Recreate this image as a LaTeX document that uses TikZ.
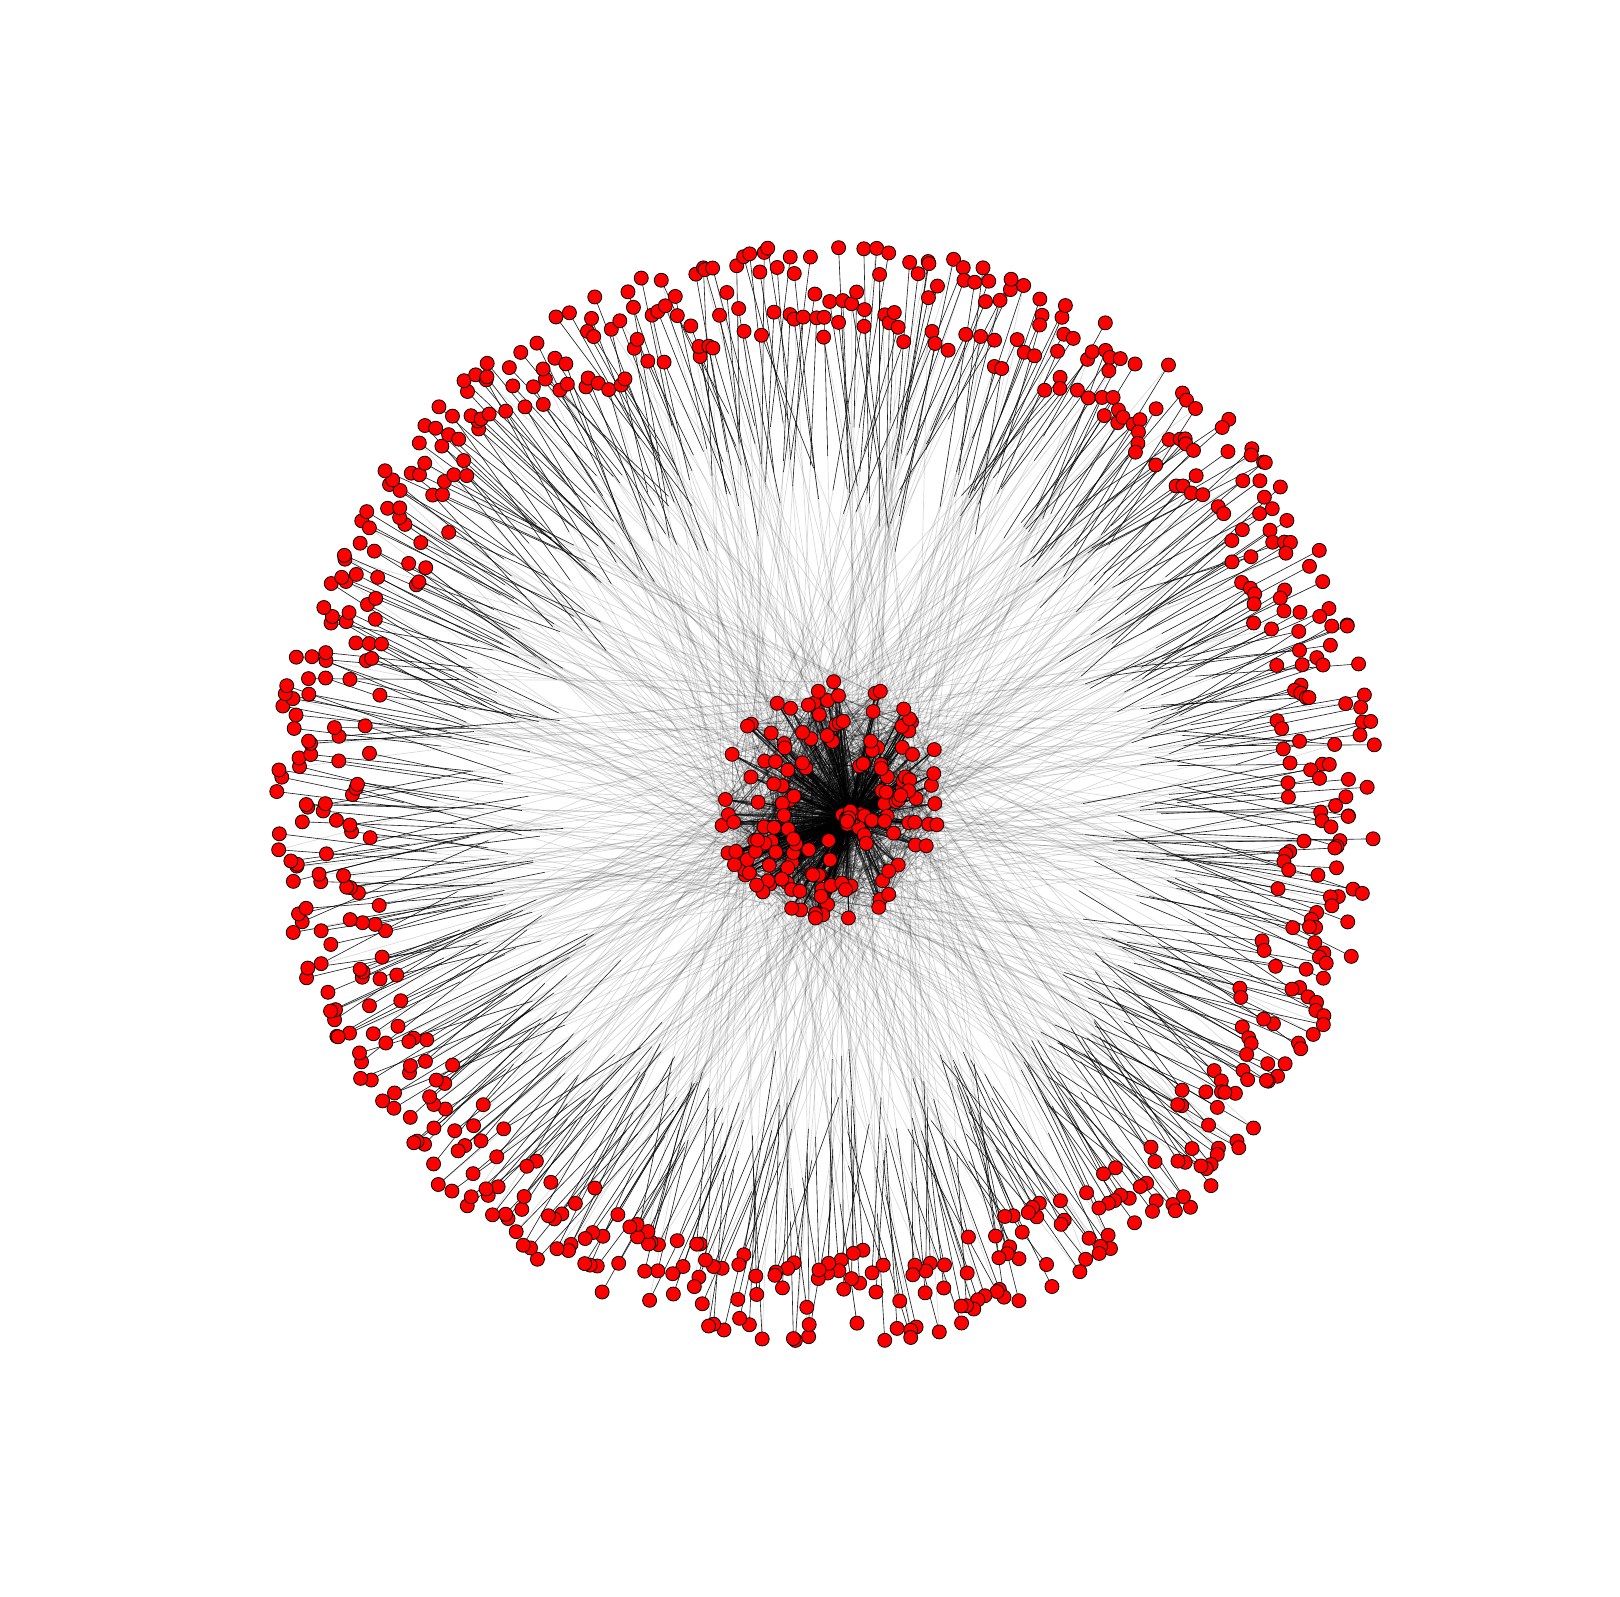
\documentclass[tikz,border=0pt]{standalone}
\usetikzlibrary{calc}
\pgfdeclarelayer{edges}
\pgfsetlayers{edges,main}
\tikzset{
  vnode/.style={circle, draw=black, fill=red, line width=0.8pt, minimum size=14pt, inner sep=0pt},
  faint/.style={draw=black, opacity=0.15, line width=0.7pt},
  darkseg/.style={draw=black, opacity=0.85, line width=0.6pt},
  core/.style={draw=black, opacity=0.45, line width=0.5pt},
}
\begin{document}
\begin{tikzpicture}[x=1pt,y=-1pt]
\useasboundingbox (0,0) rectangle (1620,1596);
\pgfmathsetseed{2718}
% central cluster: tight clump
\foreach \j in {1,...,16}{
  \pgfmathsetmacro\a{360*rnd}
  \pgfmathsetmacro\r{15*rnd}
  \pgfmathsetmacro\px{848+\r*cos(\a)}
  \pgfmathsetmacro\py{820+\r*sin(\a)}
  \node[vnode] (c\j) at (\px,\py) {};
}
% central cluster: surrounding nodes
\foreach \j in {17,...,160}{
  \pgfmathsetmacro\a{360*rnd}
  \pgfmathsetmacro\r{0.3+0.7*rnd^0.6}
  \pgfmathsetmacro\px{831+115*\r*cos(\a)}
  \pgfmathsetmacro\py{800+122*\r*sin(\a)}
  \node[vnode] (c\j) at (\px,\py) {};
}
% outer ring
\foreach \i in {1,...,680}{
  \pgfmathsetmacro\a{\i*0.52941+0.5*rand}
  \pgfmathsetmacro\r{551-95*rnd^1.15}
  \pgfmathsetmacro\px{826+\r*cos(\a)}
  \pgfmathsetmacro\py{795+\r*sin(\a)}
  \node[vnode] (o\i) at (\px,\py) {};
}
\begin{pgfonlayer}{edges}
% edges outer -> center
\foreach \i in {1,...,680}{
  \pgfmathtruncatemacro\t{1+int(159.99*rnd)}
  \pgfmathsetmacro\f{0.24+0.16*rnd}
  \draw[faint] (o\i.center) -- (c\t.center);
  \draw[darkseg] (o\i.center) -- ($(o\i.center)!\f!(c\t.center)$);
  \pgfmathtruncatemacro\two{rnd<0.3 ? 1 : 0}
  \ifnum\two=1
    \pgfmathtruncatemacro\u{1+int(159.99*rnd)}
    \draw[faint] (o\i.center) -- (c\u.center);
  \fi
}
% edges inside the core
\foreach \j in {1,...,160}{
  \foreach \k in {1,...,10}{
    \pgfmathtruncatemacro\t{1+int(15.99*rnd)}
    \draw[core] (c\j.center) -- (c\t.center);
  }
  \foreach \k in {1,...,4}{
    \pgfmathtruncatemacro\u{1+int(159.99*rnd)}
    \draw[core] (c\j.center) -- (c\u.center);
  }
}
\end{pgfonlayer}
\end{tikzpicture}
\end{document}
